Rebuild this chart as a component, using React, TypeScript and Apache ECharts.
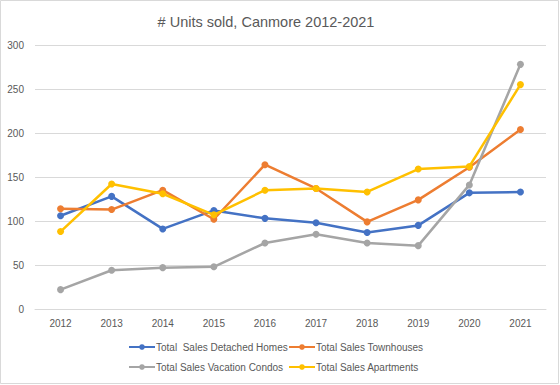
import React, { useEffect, useRef } from "react";
import * as echarts from "echarts";

const years = ["2012", "2013", "2014", "2015", "2016", "2017", "2018", "2019", "2020", "2021"];
const detached = [106, 128, 91, 112, 103, 98, 87, 95, 132, 133];
const townhouses = [114, 113, 135, 102, 164, 137, 99, 124, 161, 204];
const condos = [22, 44, 47, 48, 75, 85, 75, 72, 141, 278];
const apartments = [88, 142, 131, 107, 135, 137, 133, 159, 162, 255];

const names = [
  "Total  Sales Detached Homes",
  "Total Sales Townhouses",
  "Total Sales Vacation Condos",
  "Total Sales Apartments",
];
const colors = ["#4472C4", "#ED7D31", "#A5A5A5", "#FFC000"];
const FONT = "'Liberation Sans', Arial, sans-serif";

export default function App() {
  const ref = useRef<HTMLDivElement>(null);
  useEffect(() => {
    document.body.style.margin = "0";
    const chart = echarts.init(ref.current!, undefined, { renderer: "svg" });
    const datasets = [detached, townhouses, condos, apartments];
    const legendText = { color: "#595959", fontSize: 10, fontFamily: FONT, padding: [0, 0, 0, -4] };
    const legendBase = {
      orient: "vertical",
      top: 337,
      itemGap: 10,
      itemWidth: 26,
      itemHeight: 7,
      textStyle: legendText,
    };
    chart.setOption({
      animation: false,
      backgroundColor: "#fff",
      title: {
        text: "# Units sold, Canmore 2012-2021",
        left: 261,
        top: 9,
        textAlign: "center",
        textStyle: { color: "#595959", fontSize: 14.5, fontWeight: "normal", fontFamily: FONT },
      },
      graphic: [
        {
          type: "rect",
          shape: { x: 0.5, y: 0.5, width: 558, height: 383 },
          style: { fill: "none", stroke: "#d9d9d9", lineWidth: 1 },
          silent: true,
        },
      ],
      legend: [
        { ...legendBase, data: [names[0], names[2]], left: 123 },
        { ...legendBase, data: [names[1], names[3]], left: 283 },
      ],
      grid: { left: 35, right: 14, top: 45, height: 264, containLabel: false },
      xAxis: {
        type: "category",
        data: years,
        boundaryGap: true,
        axisLine: { show: true, lineStyle: { color: "#d9d9d9", width: 1 } },
        axisTick: { show: false },
        axisLabel: { color: "#595959", fontSize: 10, fontFamily: FONT, margin: 9 },
      },
      yAxis: {
        type: "value",
        min: 0,
        max: 300,
        interval: 50,
        axisLine: { show: false },
        axisTick: { show: false },
        splitLine: { lineStyle: { color: "#d9d9d9", width: 1 } },
        axisLabel: { color: "#595959", fontSize: 10, fontFamily: FONT, margin: 11 },
      },
      series: datasets.map((d, i) => ({
        name: names[i],
        type: "line",
        data: d,
        color: colors[i],
        symbol: "circle",
        symbolSize: 7,
        lineStyle: { width: 2.5, color: colors[i] },
        itemStyle: { color: colors[i] },
        z: 2 + i,
      })),
    });
    return () => chart.dispose();
  }, []);
  return <div ref={ref} style={{ width: 560, height: 385 }} />;
}
